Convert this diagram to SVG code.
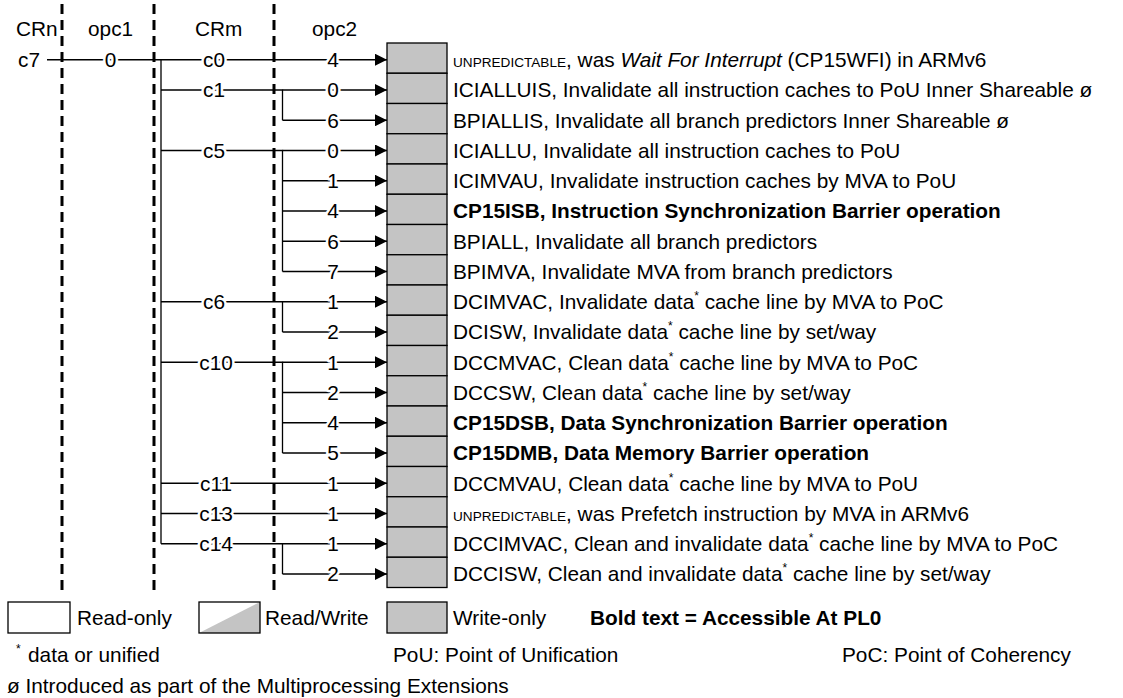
<svg xmlns="http://www.w3.org/2000/svg" width="1123" height="698" viewBox="0 0 1123 698">
<defs>
<style>
.t{font-family:"Liberation Sans",Arial,sans-serif;font-size:20.8px;fill:#000}
.b{font-weight:bold}
.sc{font-size:13.6px}
.sup{font-size:12px}
.lbl{text-anchor:middle;stroke:#fff;stroke-width:5px;paint-order:stroke;stroke-linejoin:round}
.ln{stroke:#000;stroke-width:1.3;fill:none}
.ar{stroke:#000;stroke-width:1.3;fill:none;marker-end:url(#ah)}
.dash{stroke:#000;stroke-width:3;stroke-dasharray:10 6;fill:none}
.reg{fill:#c4c4c4;stroke:#000;stroke-width:1.3}
.box{fill:#fff;stroke:#000;stroke-width:1.3}
</style>
<marker id="ah" markerWidth="12" markerHeight="12" refX="12" refY="6" orient="auto" markerUnits="userSpaceOnUse"><path d="M0,0 L12,6 L0,12 Z" fill="#000"/></marker>
</defs>
<rect width="1123" height="698" fill="#fff"/>

<g id="columns">
<path class="dash" d="M62,4 V593 M154,4 V593 M274,4 V593"/>
</g>

<g id="connectors">
<path class="ln" d="M47,59.75 H161 M161,59.75 V543.75"/>
<path class="ar" d="M161,59.75 H387"/>
<path class="ln" d="M161,90 H282.5 V120.25"/>
<path class="ar" d="M282.5,90 H387"/>
<path class="ar" d="M282.5,120.25 H387"/>
<path class="ln" d="M161,150.5 H282.5 V271.5"/>
<path class="ar" d="M282.5,150.5 H387"/>
<path class="ar" d="M282.5,180.75 H387"/>
<path class="ar" d="M282.5,211 H387"/>
<path class="ar" d="M282.5,241.25 H387"/>
<path class="ar" d="M282.5,271.5 H387"/>
<path class="ln" d="M161,301.75 H282.5 V332"/>
<path class="ar" d="M282.5,301.75 H387"/>
<path class="ar" d="M282.5,332 H387"/>
<path class="ln" d="M161,362.25 H282.5 V453"/>
<path class="ar" d="M282.5,362.25 H387"/>
<path class="ar" d="M282.5,392.5 H387"/>
<path class="ar" d="M282.5,422.75 H387"/>
<path class="ar" d="M282.5,453 H387"/>
<path class="ar" d="M161,483.25 H387"/>
<path class="ar" d="M161,513.5 H387"/>
<path class="ln" d="M161,543.75 H282.5 V574"/>
<path class="ar" d="M282.5,543.75 H387"/>
<path class="ar" d="M282.5,574 H387"/>
</g>

<g id="headers">
<text class="t" x="16" y="36">CRn</text>
<text class="t" x="88" y="36">opc1</text>
<text class="t" x="195" y="36">CRm</text>
<text class="t" x="312" y="36">opc2</text>
</g>

<g id="crn">
<text class="t" x="18" y="67">c7</text>
</g>
<g id="opc1">
<text class="t lbl" x="110.5" y="67.15">0</text>
</g>

<g id="crm">
<text class="t lbl" x="214" y="67.15">c0</text>
<text class="t lbl" x="214" y="97.4">c1</text>
<text class="t lbl" x="214" y="157.9">c5</text>
<text class="t lbl" x="214" y="309.15">c6</text>
<text class="t lbl" x="216" y="369.65">c10</text>
<text class="t lbl" x="216" y="490.65">c11</text>
<text class="t lbl" x="216" y="520.9">c13</text>
<text class="t lbl" x="216" y="551.15">c14</text>
</g>

<g id="opc2">
<text class="t lbl" x="333" y="67.15">4</text>
<text class="t lbl" x="333" y="97.4">0</text>
<text class="t lbl" x="333" y="127.65">6</text>
<text class="t lbl" x="333" y="157.9">0</text>
<text class="t lbl" x="333" y="188.15">1</text>
<text class="t lbl" x="333" y="218.4">4</text>
<text class="t lbl" x="333" y="248.65">6</text>
<text class="t lbl" x="333" y="278.9">7</text>
<text class="t lbl" x="333" y="309.15">1</text>
<text class="t lbl" x="333" y="339.4">2</text>
<text class="t lbl" x="333" y="369.65">1</text>
<text class="t lbl" x="333" y="399.9">2</text>
<text class="t lbl" x="333" y="430.15">4</text>
<text class="t lbl" x="333" y="460.4">5</text>
<text class="t lbl" x="333" y="490.65">1</text>
<text class="t lbl" x="333" y="520.9">1</text>
<text class="t lbl" x="333" y="551.15">1</text>
<text class="t lbl" x="333" y="581.4">2</text>
</g>

<g id="reg-c0-4"><rect class="reg" x="387" y="43" width="60" height="30.25"/><text class="t" x="453" y="67.15"><tspan class="sc">UNPREDICTABLE</tspan>, was <tspan font-style="italic">Wait For Interrupt</tspan> (CP15WFI) in ARMv6</text></g>
<g id="reg-c1-0"><rect class="reg" x="387" y="73.25" width="60" height="30.25"/><text class="t" x="453" y="97.4">ICIALLUIS, Invalidate all instruction caches to PoU Inner Shareable ø</text></g>
<g id="reg-c1-6"><rect class="reg" x="387" y="103.5" width="60" height="30.25"/><text class="t" x="453" y="127.65">BPIALLIS, Invalidate all branch predictors Inner Shareable ø</text></g>
<g id="reg-c5-0"><rect class="reg" x="387" y="133.75" width="60" height="30.25"/><text class="t" x="453" y="157.9">ICIALLU, Invalidate all instruction caches to PoU</text></g>
<g id="reg-c5-1"><rect class="reg" x="387" y="164" width="60" height="30.25"/><text class="t" x="453" y="188.15">ICIMVAU, Invalidate instruction caches by MVA to PoU</text></g>
<g id="reg-c5-4"><rect class="reg" x="387" y="194.25" width="60" height="30.25"/><text class="t b" x="453" y="218.4">CP15ISB, Instruction Synchronization Barrier operation</text></g>
<g id="reg-c5-6"><rect class="reg" x="387" y="224.5" width="60" height="30.25"/><text class="t" x="453" y="248.65">BPIALL, Invalidate all branch predictors</text></g>
<g id="reg-c5-7"><rect class="reg" x="387" y="254.75" width="60" height="30.25"/><text class="t" x="453" y="278.9">BPIMVA, Invalidate MVA from branch predictors</text></g>
<g id="reg-c6-1"><rect class="reg" x="387" y="285" width="60" height="30.25"/><text class="t" x="453" y="309.15">DCIMVAC, Invalidate data<tspan class="sup" dy="-9">*</tspan><tspan dy="9"> cache line by MVA to PoC</tspan></text></g>
<g id="reg-c6-2"><rect class="reg" x="387" y="315.25" width="60" height="30.25"/><text class="t" x="453" y="339.4">DCISW, Invalidate data<tspan class="sup" dy="-9">*</tspan><tspan dy="9"> cache line by set/way</tspan></text></g>
<g id="reg-c10-1"><rect class="reg" x="387" y="345.5" width="60" height="30.25"/><text class="t" x="453" y="369.65">DCCMVAC, Clean data<tspan class="sup" dy="-9">*</tspan><tspan dy="9"> cache line by MVA to PoC</tspan></text></g>
<g id="reg-c10-2"><rect class="reg" x="387" y="375.75" width="60" height="30.25"/><text class="t" x="453" y="399.9">DCCSW, Clean data<tspan class="sup" dy="-9">*</tspan><tspan dy="9"> cache line by set/way</tspan></text></g>
<g id="reg-c10-4"><rect class="reg" x="387" y="406" width="60" height="30.25"/><text class="t b" x="453" y="430.15">CP15DSB, Data Synchronization Barrier operation</text></g>
<g id="reg-c10-5"><rect class="reg" x="387" y="436.25" width="60" height="30.25"/><text class="t b" x="453" y="460.4">CP15DMB, Data Memory Barrier operation</text></g>
<g id="reg-c11-1"><rect class="reg" x="387" y="466.5" width="60" height="30.25"/><text class="t" x="453" y="490.65">DCCMVAU, Clean data<tspan class="sup" dy="-9">*</tspan><tspan dy="9"> cache line by MVA to PoU</tspan></text></g>
<g id="reg-c13-1"><rect class="reg" x="387" y="496.75" width="60" height="30.25"/><text class="t" x="453" y="520.9"><tspan class="sc">UNPREDICTABLE</tspan>, was Prefetch instruction by MVA in ARMv6</text></g>
<g id="reg-c14-1"><rect class="reg" x="387" y="527" width="60" height="30.25"/><text class="t" x="453" y="551.15">DCCIMVAC, Clean and invalidate data<tspan class="sup" dy="-9">*</tspan><tspan dy="9"> cache line by MVA to PoC</tspan></text></g>
<g id="reg-c14-2"><rect class="reg" x="387" y="557.25" width="60" height="30.25"/><text class="t" x="453" y="581.4">DCCISW, Clean and invalidate data<tspan class="sup" dy="-9">*</tspan><tspan dy="9"> cache line by set/way</tspan></text></g>

<g id="legend">
<rect class="box" x="8" y="602" width="62" height="31"/>
<text class="t" x="77" y="624.5">Read-only</text>
<rect x="199" y="602" width="61" height="31" fill="#fff"/>
<polygon points="199,633 260,602 260,633" fill="#c4c4c4"/>
<rect x="199" y="602" width="61" height="31" fill="none" stroke="#000" stroke-width="1.3"/>
<text class="t" x="265" y="624.5">Read/Write</text>
<rect class="reg" x="387" y="602" width="60" height="31"/>
<text class="t" x="453" y="624.5">Write-only</text>
<text class="t b" x="590" y="624.5">Bold text = Accessible At PL0</text>
<text class="t sup" x="16" y="653">*</text>
<text class="t" x="28" y="662">data or unified</text>
<text class="t" x="393" y="662">PoU: Point of Unification</text>
<text class="t" x="842" y="662">PoC: Point of Coherency</text>
<text class="t" x="7" y="693">ø Introduced as part of the Multiprocessing Extensions</text>
</g>
</svg>
